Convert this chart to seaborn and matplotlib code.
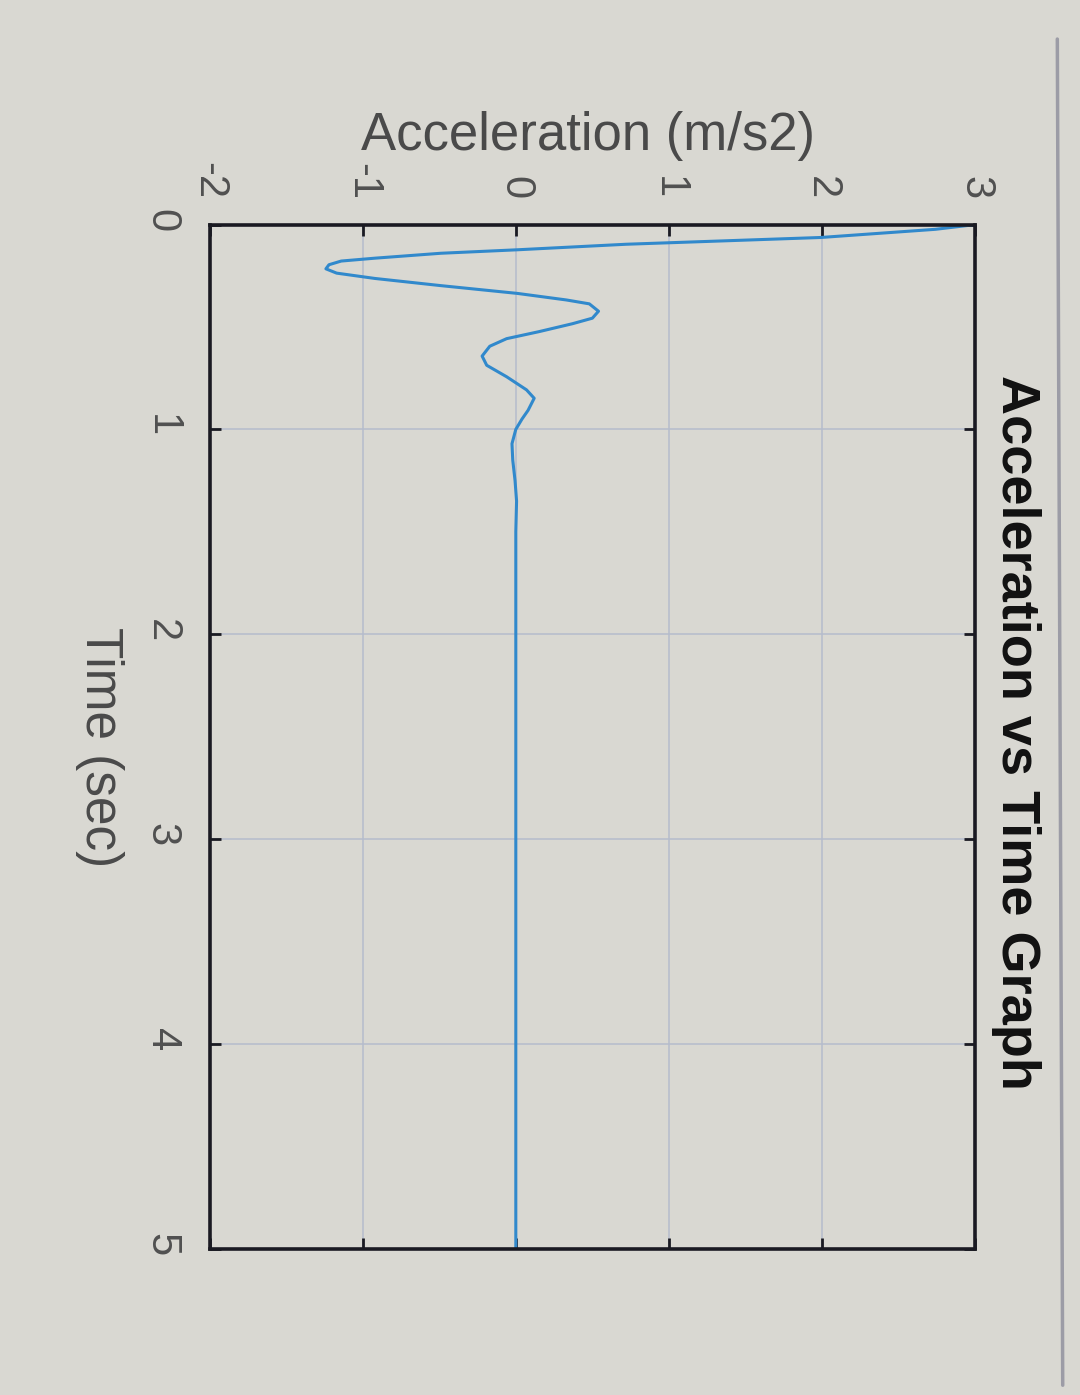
import matplotlib
matplotlib.use("Agg")
import matplotlib.pyplot as plt
import pandas as pd
import seaborn as sns
from matplotlib.lines import Line2D

time_s = [0.0, 0.023, 0.063, 0.096, 0.123, 0.140, 0.164, 0.178, 0.196, 0.216,
          0.237, 0.263, 0.298, 0.336, 0.368, 0.387, 0.423, 0.457, 0.484, 0.523,
          0.557, 0.594, 0.642, 0.687, 0.743, 0.807, 0.848, 0.907, 0.95, 1.0,
          1.07, 1.15, 1.25, 1.35, 1.5, 2.0, 3.0, 4.0, 5.0]
accel = [3.0, 2.74, 1.99, 0.72, 0.01, -0.49, -0.92, -1.14, -1.22, -1.24,
         -1.17, -0.92, -0.49, 0.01, 0.33, 0.48, 0.54, 0.50, 0.37, 0.15,
         -0.06, -0.17, -0.22, -0.19, -0.06, 0.07, 0.12, 0.08, 0.04, 0.0,
         -0.025, -0.02, -0.005, 0.005, 0.0, 0.0, 0.0, 0.0, 0.0]

accel_ticks = [-2, -1, 0, 1, 2, 3]
time_ticks = [0, 1, 2, 3, 4, 5]

df = pd.DataFrame({"Time": time_s, "Accel": accel})

sns.set_theme(style="white")
plt.rcParams["font.family"] = ["Liberation Sans", "DejaVu Sans"]
plt.rcParams["axes.unicode_minus"] = False

bg = "#d9d8d2"
fig = plt.figure(figsize=(10.8, 13.95), dpi=100, facecolor=bg)
ax = fig.add_axes([0.194, 0.105, 0.709, 0.734], facecolor=bg)

sns.lineplot(data=df, x="Accel", y="Time", orient="y", sort=False, estimator=None,
             color="#3189cc", lw=2.2, ax=ax)

ax.set_xlim(-2, 3)
ax.set_ylim(5, 0)
ax.set_xticks(accel_ticks)
ax.set_yticks(time_ticks)
ax.xaxis.tick_top()
ax.grid(True, color="#b5bccc", lw=1.1)

ax.tick_params(axis="both", direction="in", length=8, width=2, color="#1a1a22",
               labelsize=30, labelcolor="#505050",
               top=True, bottom=True, left=True, right=True,
               labeltop=True, labelbottom=False)
ax.tick_params(axis="x", pad=18)
ax.tick_params(axis="y", pad=20)
for lab in ax.get_xticklabels() + ax.get_yticklabels():
    lab.set_rotation(-90)

for sp in ax.spines.values():
    sp.set_visible(True)
    sp.set_color("#1a1a22")
    sp.set_linewidth(2.6)

ax.set_xlabel("Acceleration (m/s2)", fontsize=38, color="#4a4a4a")
ax.xaxis.set_label_position("top")
ax.xaxis.set_label_coords(0.494, 1.073)
ax.set_ylabel("Time (sec)", fontsize=37, color="#4a4a4a", rotation=-90, va="center")
ax.yaxis.set_label_coords(-0.144, 0.49)

ax.text(1.053, 0.504, "Acceleration vs Time Graph", transform=ax.transAxes,
        rotation=-90, ha="center", va="center", fontsize=39, fontweight="bold",
        color="#111111")

# monitor edge visible in the photo
fig.add_artist(Line2D([0.979, 0.984], [0.972, 0.007], transform=fig.transFigure,
                      color="#9c9ca6", lw=2.5))

fig.savefig("out.png", dpi=100, facecolor=bg)
